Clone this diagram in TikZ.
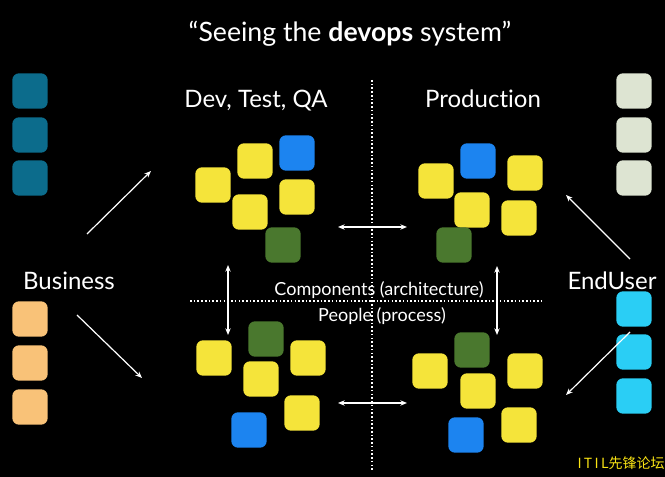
\documentclass[tikz,border=0pt]{standalone}
\usepackage{fontspec}
\setmainfont{Lato}[Ligatures=CommonOff]
\newfontfamily\cjkfont{Noto Sans CJK SC}
\usetikzlibrary{arrows.meta,positioning,backgrounds}
\definecolor{tileYellow}{RGB}{245,228,58}
\definecolor{tileBlue}{RGB}{28,132,240}
\definecolor{tileGreen}{RGB}{74,120,46}
\definecolor{tileTeal}{RGB}{12,108,140}
\definecolor{tileOrange}{RGB}{249,194,120}
\definecolor{tilePale}{RGB}{221,228,210}
\definecolor{tileCyan}{RGB}{42,206,245}
\definecolor{markYellow}{RGB}{250,228,20}
\tikzset{
  tile/.style={rounded corners=5pt,minimum size=26.5pt,inner sep=0pt},
  ytile/.style={tile,fill=tileYellow},
  btile/.style={tile,fill=tileBlue},
  gtile/.style={tile,fill=tileGreen},
  ttile/.style={tile,fill=tileTeal},
  otile/.style={tile,fill=tileOrange},
  ptile/.style={tile,fill=tilePale},
  ctile/.style={tile,fill=tileCyan},
  lbl/.style={text=white,inner sep=0pt,anchor=base,font=\fontsize{18}{20}\selectfont},
  slbl/.style={lbl,font=\fontsize{13.5}{15}\selectfont},
  flow/.style={-{Stealth[length=5pt,width=4pt]},white,line width=0.9pt},
  twoway/.style={{Stealth[length=5pt,width=4pt]}-{Stealth[length=5pt,width=4pt]},white,line width=0.9pt},
  divider/.style={white,line width=0.8pt,dash pattern=on 1.2pt off 1.6pt},
}
\begin{document}
\begin{tikzpicture}[x=0.75pt,y=-0.75pt]
\fill[black] (0,0) rectangle (665,477);
% titles
\node[lbl,font=\fontsize{20}{22}\selectfont] (title) at (350,42) {``Seeing the \textbf{devops} system''};
\node[lbl] (devhead) at (256,108) {Dev, Test, QA};
\node[lbl] (prodhead) at (483,108) {Production};
\node[lbl] (biz) at (69,290) {Business};
\node[lbl] (user) at (612,290) {EndUser};
\node[slbl] (comp) at (379,296) {Components (architecture)};
\node[slbl] (people) at (382,322) {People (process)};
% dividers
\coordinate (vtop) at (372,80); \coordinate (vbot) at (372,470);
\coordinate (hleft) at (190,301); \coordinate (hright) at (542,301);
\draw[divider] (vtop) -- (vbot);
\draw[divider] (hleft) -- (hright);
% business tiles
\node[ttile] (bt1) at (30,91) {};
\node[ttile] (bt2) at (30,135) {};
\node[ttile] (bt3) at (30,178) {};
\node[otile] (bo1) at (30,319) {};
\node[otile] (bo2) at (30,363) {};
\node[otile] (bo3) at (30,407) {};
% end user tiles
\node[ptile] (up1) at (634,91) {};
\node[ptile] (up2) at (634,135) {};
\node[ptile] (up3) at (634,178) {};
\node[ctile] (uc1) at (634,309) {};
\node[ctile] (uc2) at (634,352) {};
\node[ctile] (uc3) at (634,396) {};
% dev, components
\node[ytile] (dc1) at (255,161) {};
\node[btile] (dc2) at (297,153) {};
\node[ytile] (dc3) at (213,185) {};
\node[ytile] (dc4) at (297,197) {};
\node[ytile] (dc5) at (250,212) {};
\node[gtile] (dc6) at (283,245) {};
% production, components
\node[btile] (pc1) at (478,161) {};
\node[ytile] (pc2) at (436,181) {};
\node[ytile] (pc3) at (525,173) {};
\node[ytile] (pc4) at (472,210) {};
\node[ytile] (pc5) at (519,218) {};
\node[gtile] (pc6) at (454,245) {};
% dev, people
\node[gtile] (dp1) at (266,339) {};
\node[ytile] (dp2) at (214,358) {};
\node[ytile] (dp3) at (308,358) {};
\node[ytile] (dp4) at (261,379) {};
\node[ytile] (dp5) at (302,413) {};
\node[btile] (dp6) at (249,430) {};
% production, people
\node[gtile] (pp1) at (472,350) {};
\node[ytile] (pp2) at (430,371) {};
\node[ytile] (pp3) at (525,371) {};
\node[ytile] (pp4) at (478,391) {};
\node[ytile] (pp5) at (519,425) {};
\node[btile] (pp6) at (466,435) {};
% arrow ends
\coordinate (bizup) at (87,234); \coordinate (devin) at (151,171);
\coordinate (bizdown) at (77,315); \coordinate (pplin) at (142,378);
\coordinate (userup) at (630,259); \coordinate (prodin) at (566,195);
\coordinate (userdown) at (630,332); \coordinate (popin) at (566,395);
\coordinate (htl) at (338,227); \coordinate (htr) at (407,227);
\coordinate (hbl) at (338,403); \coordinate (hbr) at (407,403);
\coordinate (vlt) at (228,265); \coordinate (vlb) at (228,335);
\coordinate (vrt) at (497,266); \coordinate (vrb) at (497,335);
\draw[flow] (bizup) -- (devin);
\draw[flow] (bizdown) -- (pplin);
\draw[flow] (userup) -- (prodin);
\draw[flow] (userdown) -- (popin);
\draw[twoway] (htl) -- (htr);
\draw[twoway] (hbl) -- (hbr);
\draw[twoway] (vlt) -- (vlb);
\draw[twoway] (vrt) -- (vrb);
% watermark
\node[anchor=base east,inner sep=0pt,text=markYellow,font=\cjkfont\fontsize{10.5}{12}\selectfont] (mark) at (665,469) {I\,T\,I\,L先锋论坛};
\end{tikzpicture}
\end{document}
